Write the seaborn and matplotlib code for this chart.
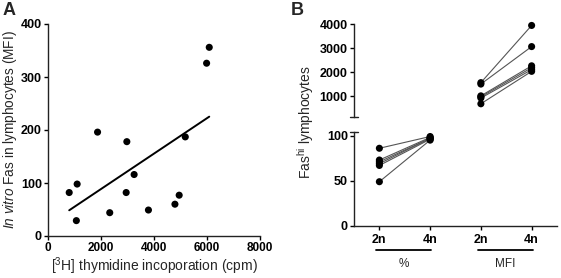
import numpy as np
import pandas as pd
import matplotlib
matplotlib.use("Agg")
import matplotlib.pyplot as plt
import seaborn as sns

# Panel A: thymidine incorporation vs in vitro Fas MFI
cpm = [800, 1100, 1070, 1870, 2330, 2975, 2950, 3250, 3790, 4790, 4950, 5180, 5985, 6085]
fas_mfi = [82, 98, 29, 196, 44, 178, 82, 116, 49, 60, 77, 187, 326, 356]

# Panel B: Fas-hi lymphocytes, paired 2n / 4n
subjects = ["s1", "s2", "s3", "s4", "s5", "s6"]
pct_2n = [86, 73, 71, 69, 67, 49]
pct_4n = [99, 98, 97, 97, 96, 95]
mfi_2n = [1560, 1500, 1010, 970, 920, 680]
mfi_4n = [3940, 3060, 2260, 2180, 2100, 2030]
ploidy = ["2n", "4n"]
group_names = ["%", "MFI"]

sns.set_theme(style="ticks")
plt.rcParams["font.family"] = ["Liberation Sans", "DejaVu Sans"]
plt.rcParams["mathtext.fontset"] = "custom"
plt.rcParams["mathtext.rm"] = "Liberation Sans"
plt.rcParams["mathtext.it"] = "Liberation Sans:italic"

W, H = 561, 278
fig = plt.figure(figsize=(W / 100, H / 100), dpi=100)


def box(left, top, right, bottom):
    return [left / W, 1 - bottom / H, (right - left) / W, (bottom - top) / H]


def style_ax(ax, size=9):
    ax.tick_params(direction="out", length=3, width=1, colors="black",
                   labelsize=size, pad=1.5)
    for lab in ax.get_xticklabels() + ax.get_yticklabels():
        lab.set_fontweight("bold")
    for s in ax.spines.values():
        s.set_linewidth(1)
        s.set_color("#222222")


# ---- Panel A ----
axA = fig.add_axes(box(48, 24, 260, 236))
sns.regplot(x=np.array(cpm), y=np.array(fas_mfi), ci=None, ax=axA,
            scatter_kws=dict(s=26, color="black", alpha=1, edgecolor="none",
                             clip_on=False),
            line_kws=dict(color="black", lw=1.4))
axA.set_xlim(0, 8000)
axA.set_ylim(0, 400)
axA.set_xticks([0, 2000, 4000, 6000, 8000])
axA.set_yticks([0, 100, 200, 300, 400])
sns.despine(ax=axA)
style_ax(axA)
axA.tick_params(axis="x", labelsize=8.5)
axA.set_xlabel(r"[$^{3}$H] thymidine incoporation (cpm)", fontsize=10, labelpad=1)
axA.set_ylabel(r"$\it{In\ vitro}$ Fas in lymphocytes (MFI)", fontsize=9.8, labelpad=1)
fig.text(3 / W, 1 - 2 / H, "A", fontsize=13, fontweight="bold", va="top", ha="left")

# ---- Panel B ----
rows = []
for i, sub in enumerate(subjects):
    rows.append((sub, "%", "2n", pct_2n[i]))
    rows.append((sub, "%", "4n", pct_4n[i]))
    rows.append((sub, "MFI", "2n", mfi_2n[i]))
    rows.append((sub, "MFI", "4n", mfi_4n[i]))
df = pd.DataFrame(rows, columns=["subject", "group", "ploidy", "value"])
df["pos"] = df["group"].map({g: 2 * k for k, g in enumerate(group_names)}) + \
    df["ploidy"].map({p: k for k, p in enumerate(ploidy)})

axBt = fig.add_axes(box(354, 24, 557, 117))
axBb = fig.add_axes(box(354, 132, 557, 226))

for ax, grp in [(axBb, "%"), (axBt, "MFI")]:
    d = df[df["group"] == grp]
    sns.lineplot(data=d, x="pos", y="value", units="subject", estimator=None,
                 color="#555555", lw=0.8, ax=ax, legend=False)
    sns.scatterplot(data=d, x="pos", y="value", color="black", s=26,
                    edgecolor="none", ax=ax, legend=False, clip_on=False, zorder=3)
    ax.set_xlim(-0.5, 3.5)
    ax.set_xlabel("")
    ax.set_ylabel("")

axBt.set_ylim(130, 4000)
axBt.set_yticks([1000, 2000, 3000, 4000])
axBb.set_ylim(0, 104)
axBb.set_yticks([0, 50, 100])
positions = list(range(2 * len(ploidy)))
axBb.set_xticks(positions)
axBb.set_xticklabels(ploidy * len(group_names))
axBt.set_xticks([])

sns.despine(ax=axBb)
sns.despine(ax=axBt, bottom=True)
style_ax(axBt)
style_ax(axBb)
axBb.tick_params(axis="x", pad=3)

# axis break marks
axBt.plot([-0.02, 0.02], [0, 0], transform=axBt.transAxes, color="#222222",
          lw=1, clip_on=False)
axBb.plot([-0.02, 0.02], [1, 1], transform=axBb.transAxes, color="#222222",
          lw=1, clip_on=False)

# group brackets under x tick labels
for k, g in enumerate(group_names):
    x0 = axBb.transData.transform((2 * k, 0))[0] / W - 3 / W
    x1 = axBb.transData.transform((2 * k + 1, 0))[0] / W + 1 / W
    fig.add_artist(plt.Line2D([x0, x1], [1 - 250 / H, 1 - 250 / H],
                              color="black", lw=1.3))
    fig.text((x0 + x1) / 2, 1 - 264 / H, g, fontsize=8.5,
             ha="center", va="center")

fig.text(306 / W, 1 - 122 / H, r"Fas$^{\mathregular{hi}}$ lymphocytes",
         rotation=90, fontsize=10, ha="center", va="center")
fig.text(291 / W, 1 - 2 / H, "B", fontsize=13, fontweight="bold", va="top", ha="left")

fig.savefig("out.png", dpi=100)
